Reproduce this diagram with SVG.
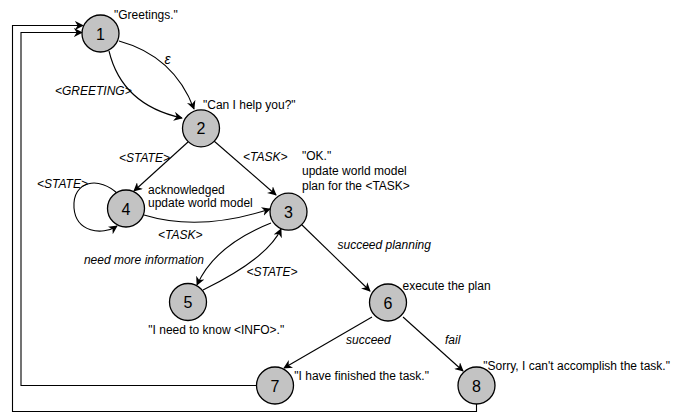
<svg xmlns="http://www.w3.org/2000/svg" width="693" height="414" viewBox="0 0 693 414">
<style>
.node circle{fill:#c3c3c3;stroke:#000;stroke-width:1.3}
.node text{font-family:"Liberation Sans",Arial,sans-serif;font-size:16px;text-anchor:middle;fill:#000}
.lbl{font-family:"Liberation Sans",Arial,sans-serif;font-size:12px;fill:#000}
.it{font-style:italic}
#edges path{fill:none;stroke:#000;stroke-width:1.1}
</style>
<defs>
<marker id="arr" viewBox="0 0 10 10" refX="9" refY="5" markerWidth="9" markerHeight="9" markerUnits="userSpaceOnUse" orient="auto">
<path d="M0,0 L10,5 L0,10 L3,5 z" fill="#000"/>
</marker>
</defs>
<rect width="693" height="414" fill="#fff"/>
<g id="edges">
<path d="M119,41 Q174,56 194,109" marker-end="url(#arr)"/>
<path d="M109,51 Q122,105 182,118" marker-end="url(#arr)"/>
<path d="M188,142 L134,191" marker-end="url(#arr)"/>
<path d="M214,141 L276,195" marker-end="url(#arr)"/>
<path d="M118,194 C100,176 72,180 74,208 C76,232 102,236 117,226" marker-end="url(#arr)"/>
<path d="M144,215 Q200,232 270,209" marker-end="url(#arr)"/>
<path d="M271,223 Q215,245 197,285" marker-end="url(#arr)"/>
<path d="M203,290 Q268,258 281,229" marker-end="url(#arr)"/>
<path d="M302,225 L370,291" marker-end="url(#arr)"/>
<path d="M372,317 L284,368" marker-end="url(#arr)"/>
<path d="M403,317 L463,371" marker-end="url(#arr)"/>
<path d="M256.5,385.5 L21,385.5 L21,32.5 L82,32.5" marker-end="url(#arr)"/>
<path d="M476.5,404 L476.5,411.5 L12.5,411.5 L12.5,25.5 L83,25.5" marker-end="url(#arr)"/>
</g>
<g id="node1" class="node"><circle cx="100.5" cy="33.5" r="18.5"/><text x="100.5" y="39.5">1</text></g>
<g id="node2" class="node"><circle cx="201" cy="128.3" r="18.5"/><text x="201" y="134.3">2</text></g>
<g id="node3" class="node"><circle cx="288.5" cy="211.7" r="18.5"/><text x="288.5" y="217.7">3</text></g>
<g id="node4" class="node"><circle cx="126" cy="208.5" r="18.5"/><text x="126" y="214.5">4</text></g>
<g id="node5" class="node"><circle cx="188" cy="302" r="18.5"/><text x="188" y="308">5</text></g>
<g id="node6" class="node"><circle cx="388" cy="302.5" r="18.5"/><text x="388" y="308.5">6</text></g>
<g id="node7" class="node"><circle cx="275" cy="385.5" r="18.5"/><text x="275" y="391.5">7</text></g>
<g id="node8" class="node"><circle cx="476.5" cy="385.5" r="18.5"/><text x="476.5" y="391.5">8</text></g>
<g id="labels">
<text class="lbl" x="114" y="19">"Greetings."</text>
<text class="lbl" x="203" y="109">"Can I help you?"</text>
<text class="lbl it" x="164.5" y="64" style="font-size:14px">ε</text>
<text class="lbl it" x="55" y="95">&lt;GREETING&gt;</text>
<text class="lbl it" x="119" y="162">&lt;STATE&gt;</text>
<text class="lbl it" x="243" y="161">&lt;TASK&gt;</text>
<text class="lbl" x="302" y="159.5">"OK."</text>
<text class="lbl" x="302" y="175">update world model</text>
<text class="lbl" x="302" y="190">plan for the &lt;TASK&gt;</text>
<text class="lbl it" x="37" y="187.5">&lt;STATE&gt;</text>
<text class="lbl" x="148" y="193.5">acknowledged</text>
<text class="lbl" x="148" y="207">update world model</text>
<text class="lbl it" x="158" y="238.5">&lt;TASK&gt;</text>
<text class="lbl it" x="204" y="263.5" text-anchor="end">need more information</text>
<text class="lbl it" x="246.5" y="276">&lt;STATE&gt;</text>
<text class="lbl it" x="337.5" y="249">succeed planning</text>
<text class="lbl" x="402.5" y="290">execute the plan</text>
<text class="lbl" x="148.3" y="333.5">"I need to know &lt;INFO&gt;."</text>
<text class="lbl it" x="346" y="344">succeed</text>
<text class="lbl it" x="445" y="344">fail</text>
<text class="lbl" x="294.3" y="379.5">"I have finished the task."</text>
<text class="lbl" x="483.3" y="369.5">"Sorry, I can't accomplish the task."</text>
</g>
</svg>
